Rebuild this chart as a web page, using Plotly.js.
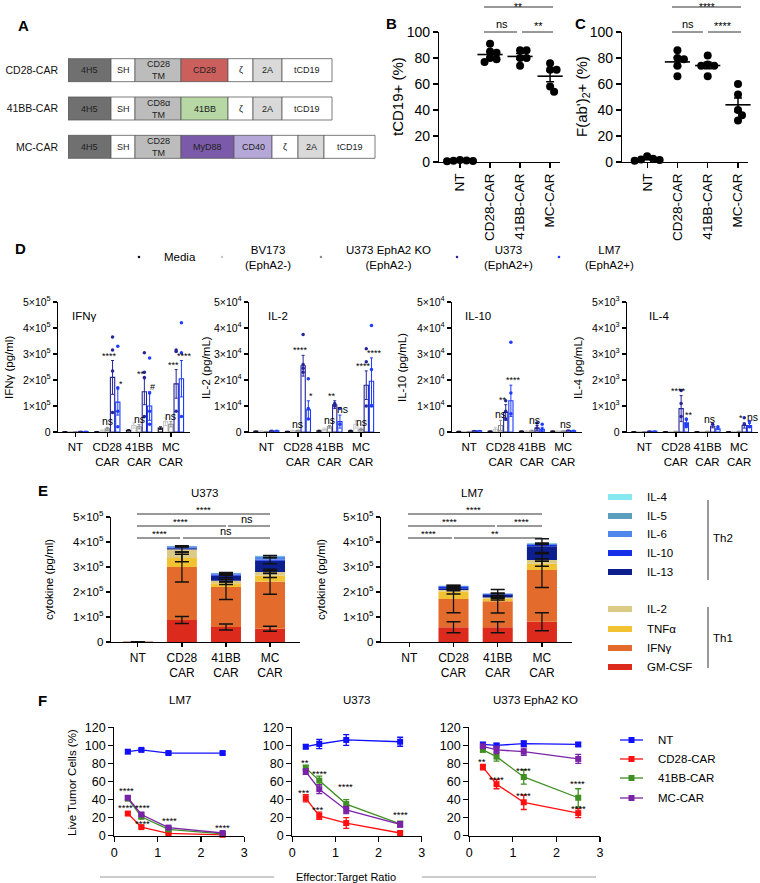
<!DOCTYPE html>
<html>
<head>
<meta charset="utf-8">
<script src="https://cdn.plot.ly/plotly-3.0.1.min.js"></script>
<style>
html,body{margin:0;padding:0;background:#fff;}
#chart{width:760px;height:883px;}
</style>
</head>
<body>
<div id="chart"></div>
<script>
// ================= DATA =================
// Panel A: CAR constructs (segment labels and relative lengths)
const carNames = ['CD28-CAR', '41BB-CAR', 'MC-CAR'];
const segLabels = [
  ['4H5', 'SH', 'CD28<br>TM', 'CD28', 'ζ', '2A', 'tCD19'],
  ['4H5', 'SH', 'CD8α<br>TM', '41BB', 'ζ', '2A', 'tCD19'],
  ['4H5', 'SH', 'CD28<br>TM', 'MyD88', 'CD40', 'ζ', '2A', 'tCD19']
];
const segLengths = [
  [43, 24, 46, 47, 25, 29, 50],
  [43, 24, 46, 47, 25, 29, 50],
  [43, 24, 46, 53, 38, 26, 26, 51]
];

// Panels B, C: % positive, individual donors
const bcCats = ['NT', 'CD28-CAR', '41BB-CAR', 'MC-CAR'];
const tcd19Pct = [[1.2, 0.8, 1.5, 0.5, 1.0], [91, 85, 84, 80, 77, 79], [86, 86, 80, 80, 74], [76, 71, 71, 58, 54]];
const fabPct = [[4.5, 2.5, 1.5, 2.0, 1.0], [86, 80, 79, 74, 66], [82, 75, 74, 74, 66], [60, 52, 40, 36, 32]];

// Panel D: cytokines per target (rows: Media, BV173, U373 KO, U373, LM7; cols: NT, CD28, 41BB, MC)
const dCats = ['NT', 'CD28<br>CAR', '41BB<br>CAR', 'MC<br>CAR'];
const dTargets = ['Media', 'BV173<br>(EphA2-)', 'U373 EphA2 KO<br>(EphA2-)', 'U373<br>(EphA2+)', 'LM7<br>(EphA2+)'];
const ifngMean = [[1e3, 1e3, 7e3, 15e3], [1e3, 5e3, 25e3, 40e3], [1e3, 12e3, 20e3, 30e3], [2e3, 210e3, 155e3, 185e3], [2e3, 115e3, 100e3, 205e3]];
const ifngErr = [[0, 500, 2e3, 5e3], [0, 3e3, 10e3, 15e3], [0, 6e3, 8e3, 10e3], [1e3, 65e3, 50e3, 55e3], [1e3, 50e3, 55e3, 70e3]];
const ifngDotsU373 = [[], [365e3, 315e3, 235e3, 75e3], [305e3, 230e3, 210e3, 60e3], [315e3, 310e3, 80e3]];
const ifngDotsLM7 = [[], [330e3, 170e3, 80e3, 20e3], [285e3, 150e3, 80e3, 30e3], [420e3, 305e3, 60e3]];
const ifngSig = [[1, 2, 'ns'], [1, 3, '****'], [1, 4, '*'], [2, 2, 'ns'], [2, 3, '**'], [2, 4, '#'], [3, 2, 'ns'], [3, 3, '***'], [3, 4, '****']];

const il2Mean = [[300, 200, 500, 500], [300, 500, 1000, 3000], [200, 500, 2000, 1000], [500, 25500, 10500, 18000], [500, 8500, 4000, 19500]];
const il2Err = [[0, 100, 200, 200], [0, 200, 500, 1500], [0, 200, 500, 500], [200, 4000, 1500, 5500], [200, 3500, 2500, 9000]];
const il2DotsU373 = [[], [37500, 26000, 24500, 23000], [11000, 10000], [32000, 27000, 10000]];
const il2DotsLM7 = [[], [20500, 9000, 5000], [9000, 3000], [41000, 24000, 10000]];
const il2Sig = [[1, 2, 'ns'], [1, 3, '****'], [1, 4, '*'], [2, 2, 'ns'], [2, 3, '**'], [2, 4, 'ns'], [3, 2, 'ns'], [3, 3, '****'], [3, 4, '****']];

const il10Mean = [[200, 300, 300, 300], [200, 1000, 300, 300], [200, 2500, 500, 300], [500, 7500, 1500, 600], [500, 12000, 1000, 500]];
const il10Err = [[100, 100, 100, 100], [0, 800, 100, 100], [0, 2000, 200, 100], [100, 3000, 1000, 200], [100, 6000, 800, 200]];
const il10DotsU373 = [[], [12000, 8000, 5000], [3500, 1500], []];
const il10DotsLM7 = [[], [34500, 15000, 7000], [3000, 1000], []];
const il10Sig = [[1, 2, 'ns'], [1, 3, '**'], [1, 4, '****'], [2, 3, 'ns'], [3, 3, 'ns']];

const il4Mean = [[10, 10, 10, 10], [10, 10, 10, 10], [10, 20, 20, 20], [30, 900, 220, 250], [30, 350, 120, 250]];
const il4Err = [[5, 5, 5, 5], [5, 5, 5, 5], [5, 10, 10, 10], [10, 500, 60, 100], [10, 100, 30, 80]];
const il4DotsU373 = [[], [1600, 1100, 600], [300], [550, 300]];
const il4DotsLM7 = [[], [500, 300, 200], [200], [400, 200]];
const il4Sig = [[1, 3, '****'], [1, 4, '**'], [2, 3, 'ns'], [3, 3, '*'], [3, 4, 'ns']];

// Panel E: stacked cytokines (rows bottom->top: GM-CSF, IFNγ, TNFα, IL-2, IL-13, IL-10, IL-6, IL-5, IL-4)
const eCats = ['NT', 'CD28<br>CAR', '41BB<br>CAR', 'MC<br>CAR'];
const eCytokines = ['GM-CSF', 'IFNγ', 'TNFα', 'IL-2', 'IL-13', 'IL-10', 'IL-6', 'IL-5', 'IL-4'];
const eU373Mean = [
  [1000, 88000, 60000, 53000], [1000, 212000, 160000, 188000], [500, 36000, 15000, 25000],
  [500, 34000, 10000, 14000], [200, 5000, 20000, 45000], [200, 3000, 5000, 5000],
  [300, 5000, 5000, 12000], [0, 1000, 1000, 2000], [0, 500, 500, 1000]];
const eU373Err = [
  [300, 14000, 12000, 10000], [0, 60000, 50000, 50000], [0, 15000, 5000, 8000],
  [0, 10000, 4000, 5000], [0, 0, 8000, 12000], [0, 0, 3000, 0],
  [0, 2000, 3000, 4000], [0, 0, 0, 0], [0, 0, 0, 0]];
const eLM7Mean = [
  [0, 59000, 59000, 81000], [0, 113000, 104000, 207000], [0, 30000, 10000, 25000],
  [0, 6000, 5000, 15000], [0, 7000, 12000, 55000], [0, 5000, 2000, 5000],
  [0, 4000, 2000, 5000], [0, 1000, 0, 2000], [0, 0, 0, 1000]];
const eLM7Err = [
  [0, 22000, 22000, 36000], [0, 55000, 47000, 70000], [0, 10000, 5000, 10000],
  [0, 3000, 3000, 5000], [0, 4000, 5000, 30000], [0, 0, 0, 0],
  [0, 2000, 1000, 3000], [0, 0, 0, 0], [0, 0, 0, 0]];

// Panel F: killing assay
const etRatio = [0.3125, 0.625, 1.25, 2.5];
const fSeries = ['NT', 'CD28-CAR', '41BB-CAR', 'MC-CAR'];
const lm7Live = [[93, 95, 91.5, 91.5], [24.5, 9.5, 2.5, 1], [41, 21, 7, 2], [42, 23.5, 9, 3]];
const lm7LiveErr = [[1.5, 1.5, 1.5, 1.5], [1.5, 1.5, 1, 0.5], [2, 2, 1.5, 0.5], [2, 2, 1.5, 1]];
const u373Live = [[98.5, 101.5, 106, 104], [41.5, 22, 14, 3], [75, 61, 35, 13], [71, 51.5, 28.5, 12.5]];
const u373LiveErr = [[2, 5, 6, 5], [4, 4, 6, 1.5], [3, 5, 5, 3], [3, 5, 4, 3]];
const koLive = [[101, 100, 102, 101], [76, 57, 37, 25], [95, 87.5, 65, 42], [99, 95, 93, 85]];
const koLiveErr = [[2, 2, 3, 2], [3, 5, 8, 5], [2, 5, 8, 10], [2, 4, 4, 5]];
const lm7Sig = [[0.29, 49.5, '****'], [0.27, 31, '****'], [0.64, 31, '****'], [0.64, 14, '****'], [1.27, 16.6, '****'], [2.5, 9, '****']];
const u373Sig = [[0.29, 81, '**'], [0.62, 69, '****'], [1.24, 54, '****'], [0.27, 47.6, '***'], [0.59, 29.5, '***'], [2.5, 24, '****']];
const koSig = [[0.29, 82, '**'], [0.63, 62.4, '****'], [1.25, 72, '****'], [1.25, 45, '****'], [2.49, 58, '****'], [2.5, 30.5, '****']];

// ================= STYLE / HELPERS =================
const FONT = 'Arial, "Liberation Sans", Helvetica, sans-serif';
const W = 760, H = 883;
const X = p => p / W;
const Y = p => 1 - p / H;
const xdom = (a, b) => [X(a), X(b)];
const ydom = (top, bottom) => [Y(bottom), Y(top)];

const segColor = {
  '4H5': '#707070', 'SH': '#ffffff', 'CD28<br>TM': '#bcbcbc', 'CD8α<br>TM': '#bcbcbc',
  'CD28': '#cb5f5c', '41BB': '#b7d8a4', 'MyD88': '#7b5ba9', 'CD40': '#b5a8d8',
  'ζ': '#ffffff', '2A': '#d9d9d9', 'tCD19': '#ffffff'
};
const dTargetColors = ['#10102e', '#c9c9c9', '#8e8e8e', '#25259a', '#1e3cff'];
const eColors = ['#dc2a1d', '#e36c2d', '#f1c232', '#dccb86', '#0c1f8c', '#1530e8', '#4f87ea', '#5aa0be', '#86e9f2'];
const fColors = ['#1010ff', '#ff1010', '#3f8f22', '#7a22a8'];

const traces = [], shapes = [], annotations = [];
const layout = {
  width: W, height: H, margin: {l: 0, r: 0, t: 0, b: 0},
  paper_bgcolor: '#ffffff', plot_bgcolor: 'rgba(0,0,0,0)',
  showlegend: false, barmode: 'overlay', hovermode: false,
  font: {family: FONT, color: '#000'},
  shapes: shapes, annotations: annotations
};

function axis(extra) {
  return Object.assign({
    showgrid: false, zeroline: false, showline: true, linecolor: '#000', linewidth: 1.2,
    ticks: 'outside', ticklen: 4, tickwidth: 1.2, tickcolor: '#000',
    tickfont: {family: FONT, size: 11, color: '#000'}, fixedrange: true
  }, extra);
}
function setAxes(n, xa, ya) {
  const s = n === 1 ? '' : n;
  layout['xaxis' + s] = Object.assign({anchor: 'y' + s}, xa);
  layout['yaxis' + s] = Object.assign({anchor: 'x' + s}, ya);
}
function tf(size) { return {family: FONT, size: size, color: '#000'}; }
function ann(text, xp, yp, size, o) {
  annotations.push(Object.assign({
    text: text, x: X(xp), y: Y(yp), xref: 'paper', yref: 'paper', showarrow: false,
    xanchor: 'center', yanchor: 'middle', font: tf(size || 11)
  }, o || {}));
}
function hline(x0, x1, y, color, w) {
  shapes.push({type: 'line', xref: 'paper', yref: 'paper', x0: X(x0), x1: X(x1), y0: Y(y), y1: Y(y), line: {color: color || '#333', width: w || 1}});
}
function vline(x, y0, y1, color, w) {
  shapes.push({type: 'line', xref: 'paper', yref: 'paper', x0: X(x), x1: X(x), y0: Y(y0), y1: Y(y1), line: {color: color || '#333', width: w || 1}});
}

// simple beeswarm: horizontal offsets (in category units) so dots do not overlap too much
function swarm(vals, pxPerUnit, diam, pxPerCat) {
  const order = vals.map((v, i) => i).sort((a, b) => vals[b] - vals[a]);
  const placed = [], off = new Array(vals.length).fill(0);
  order.forEach(i => {
    const yp = vals[i] * pxPerUnit;
    for (let s = 0; s < 400; s++) {
      const k = s === 0 ? 0 : (s % 2 ? Math.ceil(s / 2) : -Math.ceil(s / 2));
      const dx = k * 0.5;
      if (placed.every(p => Math.hypot(p.dx - dx, p.yp - yp) >= diam)) {
        off[i] = dx / pxPerCat; placed.push({dx: dx, yp: yp}); break;
      }
    }
  });
  return off;
}

// ================= PANEL LETTERS =================
ann('<b>A</b>', 23, 26, 15);
ann('<b>B</b>', 391, 23, 15);
ann('<b>C</b>', 580, 23, 15);
ann('<b>D</b>', 20, 248, 15);
ann('<b>E</b>', 43, 490, 15);
ann('<b>F</b>', 42, 700, 15);

// ================= PANEL A =================
setAxes(1,
  {domain: xdom(68, 376), range: [0, 308], visible: false, fixedrange: true},
  {domain: ydom(51, 166), type: 'category', categoryorder: 'array', categoryarray: carNames,
   range: [2.5, -0.5], showline: false, showgrid: false, zeroline: false, ticks: '',
   tickfont: {family: FONT, size: 10.5, color: '#111'}, ticklabelstandoff: 9, fixedrange: true});
carNames.forEach((name, r) => {
  const lens = segLengths[r], bases = [];
  let acc = 0;
  lens.forEach(l => { bases.push(acc); acc += l; });
  traces.push({type: 'bar', orientation: 'h', xaxis: 'x', yaxis: 'y', y: lens.map(() => name), x: lens, base: bases,
    width: 0.6, marker: {color: segLabels[r].map(s => segColor[s]), line: {color: '#5a5a5a', width: 0.8}}, hoverinfo: 'skip'});
  segLabels[r].forEach((s, k) => annotations.push({text: s, x: bases[k] + lens[k] / 2, y: name, xref: 'x', yref: 'y',
    showarrow: false, font: {family: FONT, size: 9, color: '#222'}}));
});

// ================= PANELS B, C =================
function dotPanel(n, groups, xd, xr) {
  setAxes(n,
    axis({domain: xdom(xd[0], xd[1]), range: xr, tickvals: [0, 1, 2, 3], ticktext: bcCats, tickangle: -90, tickfont: tf(13.5), ticklen: 5}),
    axis({domain: ydom(32, 162), range: [0, 100], dtick: 20, tickfont: tf(14), ticklen: 5}));
  const pxCat = (xd[1] - xd[0]) / (xr[1] - xr[0]);
  groups.forEach((vals, c) => {
    const off = swarm(vals, 1.3, 6.5, pxCat);
    traces.push({type: 'scatter', mode: 'markers', xaxis: 'x' + n, yaxis: 'y' + n,
      x: vals.map((v, i) => c + off[i]), y: vals, marker: {color: '#000', size: 8}, cliponaxis: false, hoverinfo: 'skip'});
  });
  const means = groups.map(g => g.reduce((a, b) => a + b, 0) / g.length);
  const sems = groups.map((g, i) => Math.sqrt(g.reduce((a, b) => a + (b - means[i]) ** 2, 0) / (g.length - 1)) / Math.sqrt(g.length));
  traces.push({type: 'scatter', mode: 'markers', xaxis: 'x' + n, yaxis: 'y' + n, x: [0, 1, 2, 3], y: means,
    marker: {symbol: 'line-ew', size: 18, color: '#000', line: {color: '#000', width: 1.6}},
    error_y: {type: 'data', array: sems, color: '#000', thickness: 1.5, width: 4}, cliponaxis: false, hoverinfo: 'skip'});
}
dotPanel(2, tcd19Pct, [439, 560], [-0.7, 3.33]);
dotPanel(3, fabPct, [622, 748], [-0.83, 3.33]);
ann('tCD19+ (%)', 398, 97, 15, {textangle: -90});
ann("F(ab')<sub>2</sub>+ (%)", 583, 97, 15, {textangle: -90});
// significance bars B
hline(484, 553, 7); ann('**', 518, 0, 10, {yanchor: 'top'});
hline(484, 517, 32); ann('ns', 502, 24, 11);
hline(522, 553, 32); ann('**', 538, 26, 11);
// significance bars C
hline(672, 741, 7); ann('****', 707, 0, 10, {yanchor: 'top'});
hline(672, 703, 32); ann('ns', 688, 24, 11);
hline(708, 741, 32); ann('****', 723, 26, 11);

// ================= PANEL D =================
const dSlot = 0.165, dBarW = 0.135;
// legend
const dLegDotX = [139, 222, 321, 457, 559];
const dLegTextX = [180, 268, 388, 508, 609];
dTargets.forEach((t, i) => {
  shapes.push({type: 'circle', xref: 'paper', yref: 'paper', x0: X(dLegDotX[i] - 1.3), x1: X(dLegDotX[i] + 1.3),
    y0: Y(257 + 1.3), y1: Y(257 - 1.3), fillcolor: dTargetColors[i], line: {width: 0}});
  ann(t, dLegTextX[i], 257, 11.5);
});
function dPanel(n, mean, err, dotsU, dotsL, sig, xd, exp, title, titleX, ytitle, ytitleX) {
  const tv = [0, 1, 2, 3, 4, 5].map(k => k * Math.pow(10, exp));
  const tt = tv.map((v, k) => k === 0 ? '0' : k + '×10<sup>' + exp + '</sup>');
  setAxes(n,
    axis({domain: xdom(xd[0], xd[1]), range: [-0.55, 3.6], tickvals: [0, 1, 2, 3], ticktext: dCats, tickfont: tf(11.5)}),
    axis({domain: ydom(302, 432), range: [0, 5 * Math.pow(10, exp)], tickvals: tv, ticktext: tt, tickfont: tf(10.5)}));
  mean.forEach((row, t) => {
    traces.push({type: 'bar', xaxis: 'x' + n, yaxis: 'y' + n, x: [0, 1, 2, 3].map(c => c + (t - 2) * dSlot), y: row,
      width: dBarW, marker: {color: 'rgba(255,255,255,0)', line: {color: dTargetColors[t], width: 1.1}},
      error_y: {type: 'data', array: err[t], color: dTargetColors[t], thickness: 1, width: 1.5}, hoverinfo: 'skip'});
  });
  [[dotsU, 3], [dotsL, 4]].forEach(([dots, t]) => {
    const xs = [], ys = [];
    dots.forEach((arr, c) => arr.forEach(v => { xs.push(c + (t - 2) * dSlot); ys.push(v); }));
    traces.push({type: 'scatter', mode: 'markers', xaxis: 'x' + n, yaxis: 'y' + n, x: xs, y: ys,
      marker: {color: dTargetColors[t], size: 3.5}, cliponaxis: false, hoverinfo: 'skip'});
  });
  sig.forEach(([c, t, txt]) => {
    annotations.push({text: txt, x: c + (t - 2) * dSlot, y: mean[t][c] + err[t][c], xref: 'x' + n, yref: 'y' + n,
      showarrow: false, yanchor: 'bottom', font: tf(txt === 'ns' ? 10.5 : 9), yshift: -2,
      xshift: t === 3 ? -3 : (t === 4 ? 3 : 0)});
  });
  ann(title, titleX, 316, 11.5, {xanchor: 'left'});
  ann(ytitle, ytitleX, 368, 11.5, {textangle: -90});
}
dPanel(4, ifngMean, ifngErr, ifngDotsU373, ifngDotsLM7, ifngSig, [58, 190], 5, 'IFNγ', 70, 'IFNγ (pg/ml)', 9);
dPanel(5, il2Mean, il2Err, il2DotsU373, il2DotsLM7, il2Sig, [249, 380], 4, 'IL-2', 266, 'IL-2 (pg/mL)', 206);
dPanel(6, il10Mean, il10Err, il10DotsU373, il10DotsLM7, il10Sig, [452, 582], 4, 'IL-10', 463, 'IL-10 (pg/mL)', 402);
dPanel(7, il4Mean, il4Err, il4DotsU373, il4DotsLM7, il4Sig, [627, 758], 3, 'IL-4', 647, 'IL-4 (pg/mL)', 578);

// ================= PANEL E =================
function stackPanel(n, means, errs, xd, xr, title, titleX, ytitleX) {
  const tv = [0, 1, 2, 3, 4, 5].map(k => k * 1e5);
  const tt = tv.map((v, k) => k === 0 ? '0' : k + '×10<sup>5</sup>');
  setAxes(n,
    axis({domain: xdom(xd[0], xd[1]), range: xr, tickvals: [0, 1, 2, 3], ticktext: eCats, tickfont: tf(12)}),
    axis({domain: ydom(517, 642), range: [0, 5e5], tickvals: tv, ticktext: tt, tickfont: tf(11.5)}));
  const cum = [0, 0, 0, 0];
  const ex = [], ey = [], ee = [];
  means.forEach((row, k) => {
    traces.push({type: 'bar', xaxis: 'x' + n, yaxis: 'y' + n, x: [0, 1, 2, 3], y: row, base: cum.slice(), width: 0.68,
      marker: {color: eColors[k], line: {width: 0}}, hoverinfo: 'skip'});
    row.forEach((v, c) => {
      cum[c] += v;
      if (errs[k][c] > 0) { ex.push(c); ey.push(cum[c]); ee.push(errs[k][c]); }
    });
  });
  traces.push({type: 'scatter', mode: 'markers', xaxis: 'x' + n, yaxis: 'y' + n, x: ex, y: ey,
    marker: {size: 1, color: 'rgba(0,0,0,0)'}, error_y: {type: 'data', array: ee, color: '#111', thickness: 1.3, width: 7}, hoverinfo: 'skip'});
  ann(title, titleX, 493, 11.5);
  ann('cytokine (pg/ml)', ytitleX, 580, 11.5, {textangle: -90});
}
stackPanel(8, eU373Mean, eU373Err, [111, 300], [-0.61, 3.68], 'U373', 205, 49);
stackPanel(9, eLM7Mean, eLM7Err, [381, 572], [-0.64, 3.68], 'LM7', 472, 321);
// significance E left
hline(137, 270, 514); ann('****', 203, 509, 9.5);
hline(137, 226, 526); ann('****', 180, 521, 9.5);
hline(228, 270, 526); ann('ns', 247, 519, 11);
hline(137, 180, 538); ann('****', 159, 533, 9.5);
hline(183, 270, 538); ann('ns', 226, 531, 11);
// significance E right
hline(408, 542, 514); ann('****', 473, 509, 9.5);
hline(408, 495, 526); ann('****', 450, 521, 9.5);
hline(497, 542, 526); ann('****', 521, 521, 9.5);
hline(408, 452, 538); ann('****', 428, 533, 9.5);
hline(454, 542, 538); ann('**', 495, 533, 9.5);
// E legend (top to bottom: Th2 then Th1)
const eLegOrder = [8, 7, 6, 5, 4, 3, 2, 1, 0];
const eLegY = [497, 516, 534, 553, 572, 609, 629, 648, 667];
eLegOrder.forEach((k, i) => {
  shapes.push({type: 'rect', xref: 'paper', yref: 'paper', x0: X(608), x1: X(632), y0: Y(eLegY[i] + 3), y1: Y(eLegY[i] - 3),
    fillcolor: eColors[k], line: {width: 0}});
  ann(eCytokines[k], 645, eLegY[i], 11.5, {xanchor: 'left'});
});
vline(708, 500, 580, '#333', 1);
vline(708, 607, 668, '#333', 1);
ann('Th2', 723, 538, 11.5);
ann('Th1', 723, 638, 11.5);

// ================= PANEL F =================
function linePanel(n, vals, errs, sig, xd, title, titleX) {
  setAxes(n,
    axis({domain: xdom(xd[0], xd[1]), range: [0, 3], dtick: 1, tickfont: tf(12.5), ticklen: 5}),
    axis({domain: ydom(727.3, 835.7), range: [0, 120], dtick: 20, tickfont: tf(12.5), ticklen: 5}));
  vals.forEach((v, k) => traces.push({type: 'scatter', mode: 'lines+markers', xaxis: 'x' + n, yaxis: 'y' + n,
    x: etRatio, y: v, line: {color: fColors[k], width: 1.3}, marker: {symbol: 'square', size: 6, color: fColors[k]},
    error_y: {type: 'data', array: errs[k], color: fColors[k], thickness: 1.3, width: 3}, cliponaxis: false, hoverinfo: 'skip'}));
  sig.forEach(([x, y, txt]) => annotations.push({text: txt, x: x, y: y, xref: 'x' + n, yref: 'y' + n, showarrow: false, font: tf(9.5)}));
  ann(title, titleX, 700, 11.5);
}
linePanel(10, lm7Live, lm7LiveErr, lm7Sig, [114.3, 244.3], 'LM7', 180);
linePanel(11, u373Live, u373LiveErr, u373Sig, [292.3, 421.7], 'U373', 357);
linePanel(12, koLive, koLiveErr, koSig, [469.3, 600], 'U373 EphA2 KO', 535);
ann('Live Tumor Cells (%)', 72, 783, 11.5, {textangle: -90});
hline(100, 274, 877, '#999', 1);
hline(422, 596, 877, '#999', 1);
ann('Effector:Target Ratio', 346, 877, 11);
// F legend
const fLegY = [740, 759, 778, 798];
fSeries.forEach((s, k) => {
  hline(620, 643, fLegY[k], fColors[k], 1.3);
  shapes.push({type: 'rect', xref: 'paper', yref: 'paper', x0: X(628.5), x1: X(634.5), y0: Y(fLegY[k] + 3), y1: Y(fLegY[k] - 3),
    fillcolor: fColors[k], line: {width: 0}});
  ann(s, 656, fLegY[k], 11.5, {xanchor: 'left'});
});

Plotly.newPlot('chart', traces, layout, {staticPlot: true, displayModeBar: false});
</script>
</body>
</html>
